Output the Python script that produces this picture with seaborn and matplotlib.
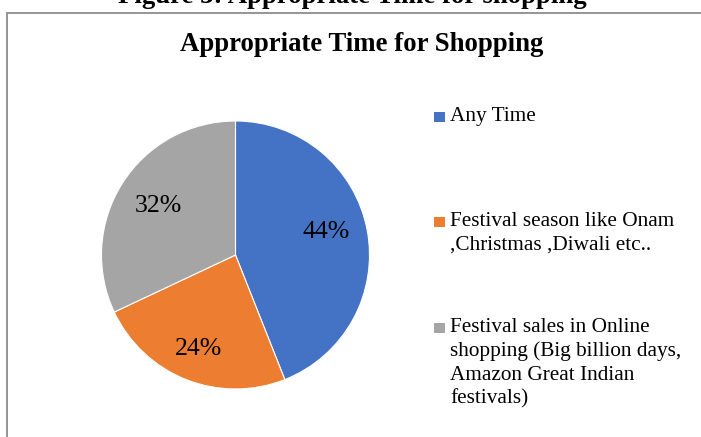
import matplotlib
matplotlib.use("Agg")
import matplotlib.pyplot as plt
import seaborn as sns
from matplotlib.patches import Rectangle

sns.set_theme(style="white")
plt.rcParams['font.family'] = ['Liberation Serif', 'DejaVu Serif']

# ---- data ----
categories = ["Any Time",
              "Festival season like Onam\n,Christmas ,Diwali etc..",
              "Festival sales in Online\nshopping (Big billion days,\nAmazon Great Indian\nfestivals)"]
values = [44, 24, 32]
colors = ["#4472C4", "#ED7D31", "#A5A5A5"]
title = "Appropriate Time for Shopping"
caption = "Figure 3: Appropriate Time for shopping"

W, H = 701, 437
fig = plt.figure(figsize=(W / 100, H / 100), dpi=100)
fig.patch.set_facecolor("white")

# chart border (extends past right and bottom edges)
fig.patches.append(Rectangle((7 / W, -0.1), 1.2, 1 - 13 / H + 0.1,
                             transform=fig.transFigure, fill=False,
                             edgecolor="#8c8c8c", linewidth=1.3))

# caption partially cut off at top
fig.text(352 / W, 1 - 3 / H, caption, ha="center", va="baseline",
         fontsize=19.3, fontweight="bold", color="black")

# title
fig.text(362 / W, 1 - 51 / H, title, ha="center", va="baseline",
         fontsize=19.3, fontweight="bold", color="black")

# pie
cx, cy, r = 235.5, 255, 134
ax = fig.add_axes([(cx - r) / W, 1 - (cy + r) / H, 2 * r / W, 2 * r / H])
wedges, texts, autotexts = ax.pie(values, colors=colors, startangle=90,
                                  counterclock=False, autopct="%d%%",
                                  pctdistance=0.70,
                                  wedgeprops=dict(edgecolor="white", linewidth=0.8),
                                  textprops=dict(fontsize=18.5, color="black"))
# Excel best-fit nudges
x, y = autotexts[1].get_position()
autotexts[1].set_position((x * 1.06, y * 1.08))
x, y = autotexts[0].get_position()
autotexts[0].set_position((x * 0.98, y + 0.04))
x, y = autotexts[2].get_position()
autotexts[2].set_position((x * 0.98, y - 0.01))
ax.set_aspect("equal")
ax.set_xlim(-1, 1)
ax.set_ylim(-1, 1)
ax.axis("off")

# legend (manual, Excel-like)
entry_tops = [117, 222, 328]
for lab, col, yc in zip(categories, colors, entry_tops):
    fig.patches.append(Rectangle((434 / W, 1 - (yc + 5) / H), 10.5 / W, 10 / H,
                                 transform=fig.transFigure, facecolor=col,
                                 edgecolor="none"))
    fig.text(450 / W, 1 - (yc - 10) / H, lab, ha="left", va="top",
             fontsize=15.3, color="black", linespacing=1.31)

fig.savefig("out.png", dpi=100)
